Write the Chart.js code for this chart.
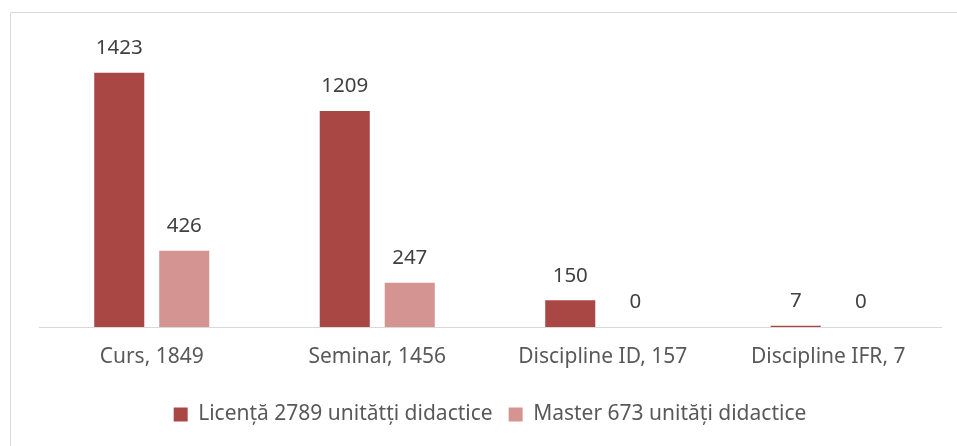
<!DOCTYPE html>
<html>
<head>
<meta charset="utf-8">
<script src="https://cdn.jsdelivr.net/npm/chart.js@4/dist/chart.umd.min.js"></script>
<style>
  html, body { margin: 0; padding: 0; background: #fff; }
  #wrap { width: 957px; height: 446px; position: relative; }
</style>
</head>
<body>
<div id="wrap"><canvas id="chart"></canvas></div>
<script>
// --- Data ---
const categories = ["Curs, 1849", "Seminar, 1456", "Discipline ID, 157", "Discipline IFR, 7"];
const licentaValues = [1423, 1209, 150, 7];
const masterValues = [426, 247, 0, 0];
const seriesNames = ["Licență 2789 unitătți didactice", "Master 673 unități didactice"];

const FONT = "'Noto Sans', sans-serif";

// frame around the chart (clipped on the right and bottom like the original)
const framePlugin = {
  id: "frame",
  beforeDraw(chart) {
    const c = chart.ctx;
    c.save();
    c.strokeStyle = "#d9d9d9";
    c.lineWidth = 1;
    c.beginPath();
    c.moveTo(10.5, 446);
    c.lineTo(10.5, 12.5);
    c.lineTo(957, 12.5);
    c.stroke();
    c.restore();
  }
};

// value labels above each bar
const valueLabels = {
  id: "valueLabels",
  afterDatasetsDraw(chart) {
    const c = chart.ctx;
    c.save();
    c.font = "20.5px " + FONT;
    c.fillStyle = "#404040";
    c.textAlign = "center";
    c.textBaseline = "middle";
    chart.data.datasets.forEach((ds, i) => {
      chart.getDatasetMeta(i).data.forEach((bar, j) => {
        c.fillText(ds.data[j], bar.x, bar.y - 24.5);
      });
    });
    c.restore();
  }
};

new Chart(document.getElementById("chart"), {
  type: "bar",
  data: {
    labels: categories,
    datasets: [
      { label: seriesNames[0], data: licentaValues, backgroundColor: "#a84744" },
      { label: seriesNames[1], data: masterValues, backgroundColor: "#d49592" }
    ]
  },
  options: {
    responsive: true,
    maintainAspectRatio: false,
    animation: false,
    devicePixelRatio: 1,
    categoryPercentage: 0.5765,
    barPercentage: 0.77,
    layout: { padding: { left: 39, right: 16, top: 41, bottom: 11 } },
    scales: {
      x: {
        grid: { display: false, drawTicks: false },
        border: { color: "#d9d9d9", width: 1 },
        ticks: { color: "#595959", font: { family: FONT, size: 21, lineHeight: 1 }, padding: 20 }
      },
      y: { display: false, min: 0, max: 1600 }
    },
    plugins: {
      legend: {
        position: "bottom",
        labels: {
          color: "#595959",
          font: { family: FONT, size: 21, lineHeight: 1 },
          boxWidth: 14,
          boxHeight: 14,
          padding: 16
        }
      },
      tooltip: { enabled: false }
    }
  },
  plugins: [framePlugin, valueLabels]
});
</script>
</body>
</html>
